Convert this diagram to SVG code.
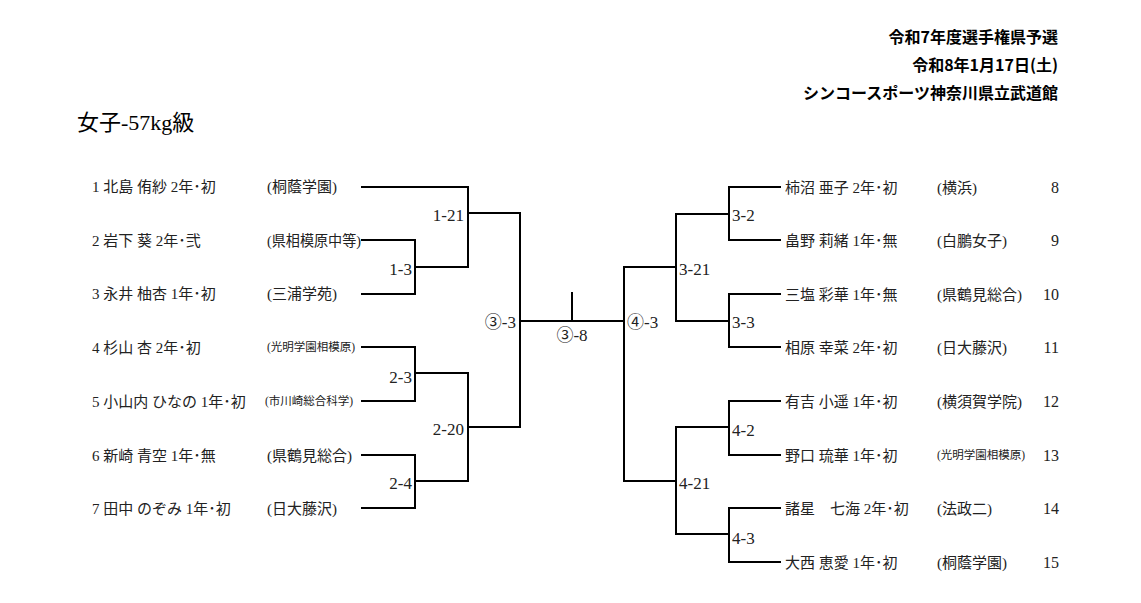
<svg xmlns="http://www.w3.org/2000/svg" width="1141" height="603" viewBox="0 0 1141 603">
<style>
text{font-family:"Liberation Serif","Noto Sans CJK JP",serif;fill:#222;font-size:15px}
.hd{font-family:"Noto Sans CJK JP","Liberation Sans",sans-serif;font-weight:bold;font-size:16px;fill:#000;text-anchor:end}
.ttl{font-size:22px;fill:#000}
.sm{font-size:11.5px}
.lbl{font-size:17px}
.num{font-size:16px}
.r{text-anchor:end}
.c{text-anchor:middle}
.ln{fill:none;stroke:#000;stroke-width:2;stroke-linecap:square}
</style>
<rect width="1141" height="603" fill="#fff"/>
<g id="header">
<text class="hd" x="1058" y="43">令和7年度選手権県予選</text>
<text class="hd" x="1058" y="71">令和8年1月17日(土)</text>
<text class="hd" x="1058" y="99">シンコースポーツ神奈川県立武道館</text>
</g>
<text id="title" class="ttl" x="77" y="130">女子-57kg級</text>
<g id="connectors" class="ln">
<path d="M362,187 H468 V267"/>
<path d="M362,240 H415 V294 H362"/>
<path d="M415,267 H468"/>
<path d="M468,213 H520 V427 H468"/>
<path d="M468,373 V481"/>
<path d="M362,347 H415 V401 H362"/>
<path d="M415,373 H468"/>
<path d="M362,455 H415 V508 H362"/>
<path d="M415,481 H468"/>
<path d="M520,321 H624"/>
<path d="M572,293 V321"/>
<path d="M624,267 V481"/>
<path d="M624,267 H676"/>
<path d="M624,481 H676"/>
<path d="M676,214 V321"/>
<path d="M676,214 H729"/>
<path d="M676,321 H729"/>
<path d="M780,187 H729 V240 H780"/>
<path d="M780,294 H729 V347 H780"/>
<path d="M676,427 V534"/>
<path d="M676,427 H729"/>
<path d="M676,534 H729"/>
<path d="M780,401 H729 V455 H780"/>
<path d="M780,508 H729 V562 H780"/>
</g>
<g id="labels">
<text class="lbl r" x="464" y="221">1-21</text>
<text class="lbl r" x="412" y="275">1-3</text>
<text class="lbl r" x="412" y="383">2-3</text>
<text class="lbl r" x="464" y="435">2-20</text>
<text class="lbl r" x="412" y="489">2-4</text>
<text class="lbl r" x="516" y="328">③-3</text>
<text class="lbl c" x="572" y="341">③-8</text>
<text class="lbl" x="627" y="328">④-3</text>
<text class="lbl" x="679" y="275">3-21</text>
<text class="lbl" x="732" y="221">3-2</text>
<text class="lbl" x="732" y="328">3-3</text>
<text class="lbl" x="679" y="489">4-21</text>
<text class="lbl" x="732" y="436">4-2</text>
<text class="lbl" x="732" y="544">4-3</text>
</g>
<g id="p1"><text x="92" y="192">1 北島 侑紗 2年･初</text><text x="267" y="192">(桐蔭学園)</text></g>
<g id="p2"><text x="92" y="246">2 岩下 葵 2年･弐</text><text x="267" y="246" textLength="94" lengthAdjust="spacingAndGlyphs">(県相模原中等)</text></g>
<g id="p3"><text x="92" y="299">3 永井 柚杏 1年･初</text><text x="267" y="299">(三浦学苑)</text></g>
<g id="p4"><text x="92" y="353">4 杉山 杏 2年･初</text><text class="sm" x="267" y="351">(光明学園相模原)</text></g>
<g id="p5"><text x="92" y="407">5 小山内 ひなの 1年･初</text><text class="sm" x="265" y="405">(市川崎総合科学)</text></g>
<g id="p6"><text x="92" y="461">6 新崎 青空 1年･無</text><text x="267" y="461">(県鶴見総合)</text></g>
<g id="p7"><text x="92" y="514">7 田中 のぞみ 1年･初</text><text x="267" y="514">(日大藤沢)</text></g>
<g id="p8"><text x="785" y="193">柿沼 亜子 2年･初</text><text x="937" y="193">(横浜)</text><text class="r num" x="1059" y="193">8</text></g>
<g id="p9"><text x="785" y="246">畠野 莉緒 1年･無</text><text x="937" y="246">(白鵬女子)</text><text class="r num" x="1059" y="246">9</text></g>
<g id="p10"><text x="785" y="300">三塩 彩華 1年･無</text><text x="937" y="300">(県鶴見総合)</text><text class="r num" x="1059" y="300">10</text></g>
<g id="p11"><text x="785" y="353">相原 幸菜 2年･初</text><text x="937" y="353">(日大藤沢)</text><text class="r num" x="1059" y="353">11</text></g>
<g id="p12"><text x="785" y="407">有吉 小遥 1年･初</text><text x="937" y="407">(横須賀学院)</text><text class="r num" x="1059" y="407">12</text></g>
<g id="p13"><text x="785" y="461">野口 琉華 1年･初</text><text class="sm" x="937" y="459">(光明学園相模原)</text><text class="r num" x="1059" y="461">13</text></g>
<g id="p14"><text x="785" y="514">諸星　七海 2年･初</text><text x="937" y="514">(法政二)</text><text class="r num" x="1059" y="514">14</text></g>
<g id="p15"><text x="785" y="568">大西 恵愛 1年･初</text><text x="937" y="568">(桐蔭学園)</text><text class="r num" x="1059" y="568">15</text></g>
</svg>
